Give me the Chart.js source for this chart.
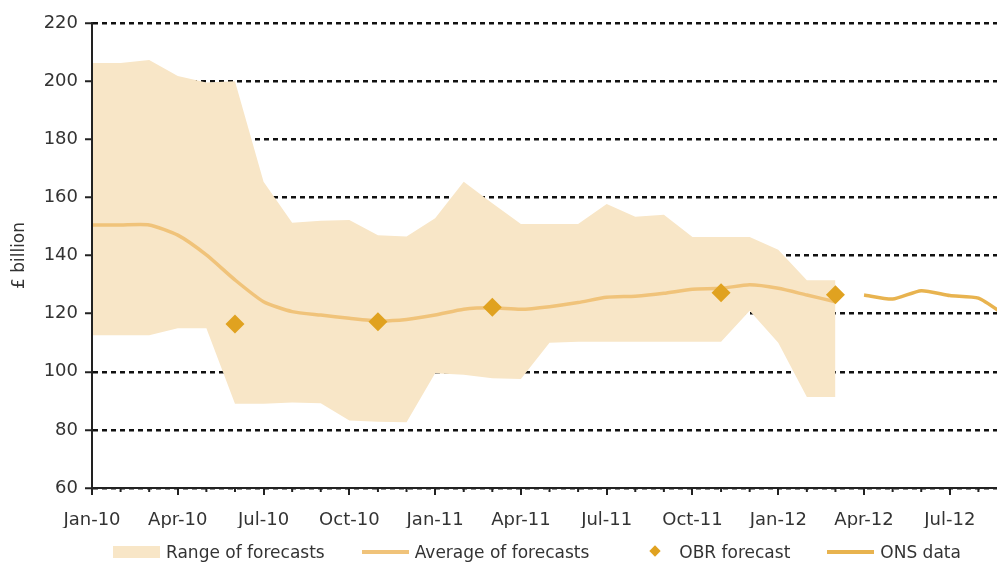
<!DOCTYPE html>
<html>
<head>
<meta charset="utf-8">
<script src="https://cdn.jsdelivr.net/npm/chart.js@4.4.1/dist/chart.umd.min.js"></script>
<style>
  html, body { margin: 0; padding: 0; background: #fff; }
  #wrap { position: relative; width: 997px; height: 563px; overflow: hidden; }
  #legend {
    position: absolute; left: 113px; top: 541px; height: 22px;
    display: flex; align-items: center; gap: 37px;
    font: 17px "DejaVu Sans", sans-serif; color: #333; white-space: nowrap;
  }
  .item { display: flex; align-items: center; }
  .swatch { width: 47px; height: 22px; margin-right: 6px; position: relative; }
  .swatch span { position: absolute; }
  .box span { left: 0; top: 5px; width: 47px; height: 12px; background: #F8E6C7; }
  .line span { left: 0; top: 9px; width: 47px; height: 4px; }
  .diamond span { left: 25px; top: 6px; width: 8px; height: 8px; background: #E0A220; transform: rotate(45deg); }
</style>
</head>
<body>
<div id="wrap">
  <canvas id="chart" width="997" height="563"></canvas>
  <div id="legend"></div>
</div>
<script>
// month labels, Jan-10 .. Sep-12
const months = ['Jan-10', 'Feb-10', 'Mar-10', 'Apr-10', 'May-10', 'Jun-10', 'Jul-10', 'Aug-10', 'Sep-10',
    'Oct-10', 'Nov-10', 'Dec-10', 'Jan-11', 'Feb-11', 'Mar-11', 'Apr-11', 'May-11', 'Jun-11', 'Jul-11',
    'Aug-11', 'Sep-11', 'Oct-11', 'Nov-11', 'Dec-11', 'Jan-12', 'Feb-12', 'Mar-12', 'Apr-12', 'May-12',
    'Jun-12', 'Jul-12', 'Aug-12', 'Sep-12'];

// forecasts run Jan-10 .. Mar-12
const rangeLow = [112.6, 112.6, 112.6, 115, 115, 89, 89, 89.4, 89.2, 83.2, 82.8, 82.6, 99.5, 99, 97.8, 97.5,
    110, 110.3, 110.3, 110.3, 110.3, 110.3, 110.3, 121, 110, 91.3, 91.3];
const rangeHigh = [206.2, 206.2, 207.3, 201.8, 199.5, 200, 165.4, 151.3, 152, 152.2, 147, 146.5, 152.8, 165.4,
    158, 150.8, 150.8, 150.8, 157.7, 153.3, 154, 146.4, 146.4, 146.4, 142, 131.5, 131.5];
const averageForecast = [150.5, 150.5, 150.5, 147, 140.2, 131.6, 124.1, 120.7, 119.5, 118.4, 117.5, 118, 119.5,
    121.5, 122, 121.5, 122.4, 123.8, 125.6, 126, 127, 128.4, 128.7, 129.9, 128.7, 126.4, 124.1];

const obrDates = ['Jun-10', 'Nov-10', 'Mar-11', 'Nov-11', 'Mar-12'];
const obrForecast = [116.4, 117.2, 122.2, 127.2, 126.5];

const onsDates = ['Apr-12', 'May-12', 'Jun-12', 'Jul-12', 'Aug-12', 'Sep-12'];
const onsData = [126.4, 125, 127.9, 126.2, 125.3, 119];

const fillColour = '#F8E6C7';
const avgColour = '#F0C37A';
const onsColour = '#E8B34F';
const obrColour = '#E0A220';
const font = 'DejaVu Sans';

const toPoints = (vals) => vals.map((v, i) => ({ x: i, y: v }));
const datePoints = (dates, vals) => dates.map((d, i) => ({ x: months.indexOf(d), y: vals[i] }));

// short ticks for the months between the labelled quarters,
// and the y axis line redrawn so the shaded range doesn't cover it
const axisExtras = {
    id: 'axisExtras',
    afterDraw(chart) {
        const x = chart.scales.x;
        const y = chart.scales.y;
        const c = chart.ctx;
        c.save();
        c.strokeStyle = '#222';
        c.lineWidth = 2;
        x.ticks.forEach((t) => {
            if (t.value % 3 === 0) return;
            const px = x.getPixelForValue(t.value);
            c.beginPath();
            c.moveTo(px, x.top);
            c.lineTo(px, x.top + 4);
            c.stroke();
        });
        c.beginPath();
        c.moveTo(y.right, y.top);
        c.lineTo(y.right, y.bottom);
        c.stroke();
        c.restore();
    },
};

const ctx = document.getElementById('chart').getContext('2d');
new Chart(ctx, {
    type: 'line',
    data: {
        datasets: [
            {
                label: 'Range low',
                data: toPoints(rangeLow),
                borderColor: 'transparent',
                borderWidth: 0,
                pointRadius: 0,
                fill: false,
                order: 3,
            },
            {
                label: 'Range of forecasts',
                data: toPoints(rangeHigh),
                borderColor: 'transparent',
                borderWidth: 0,
                pointRadius: 0,
                backgroundColor: fillColour,
                fill: '-1',
                order: 2,
            },
            {
                label: 'Average of forecasts',
                data: toPoints(averageForecast),
                borderColor: avgColour,
                borderWidth: 3.5,
                pointRadius: 0,
                tension: 0.2,
                fill: false,
                order: 1,
            },
            {
                label: 'ONS data',
                data: datePoints(onsDates, onsData),
                borderColor: onsColour,
                borderWidth: 3.5,
                pointRadius: 0,
                tension: 0.2,
                fill: false,
                order: 1,
            },
            {
                label: 'OBR forecast',
                data: datePoints(obrDates, obrForecast),
                showLine: false,
                pointStyle: 'rectRot',
                pointRadius: 9.5,
                backgroundColor: obrColour,
                borderWidth: 0,
                order: 0,
            },
        ],
    },
    options: {
        responsive: false,
        animation: false,
        layout: { autoPadding: false, padding: { top: 23, right: 0, bottom: 35, left: 0 } },
        plugins: {
            legend: { display: false },
            tooltip: { enabled: false },
        },
        scales: {
            x: {
                type: 'linear',
                min: 0,
                max: 31.65,
                grid: {
                    drawOnChartArea: false,
                    color: '#222',
                    lineWidth: 2,
                    tickLength: 7,
                    tickColor: (c) => (c.tick && c.tick.value % 3 === 0 ? '#222' : 'transparent'),
                },
                border: { color: '#222', width: 2 },
                ticks: {
                    stepSize: 1,
                    includeBounds: false,
                    autoSkip: false,
                    maxRotation: 0,
                    padding: 15,
                    color: '#333',
                    font: { family: font, size: 18 },
                    callback: (v) => (v % 3 === 0 ? months[v] : ''),
                },
                afterFit: (s) => { s.height = 40; s.paddingRight = 0; },
            },
            y: {
                min: 60,
                max: 220,
                grid: { color: '#111', lineWidth: 2.5, tickLength: 7, tickColor: '#222', tickWidth: 2 },
                border: { color: '#222', width: 2, dash: [5, 4] },
                ticks: { stepSize: 20, padding: 7, color: '#333', font: { family: font, size: 18 } },
                title: {
                    display: true,
                    text: '£ billion',
                    color: '#333',
                    font: { family: font, size: 17 },
                    padding: { top: 9, bottom: 0 },
                },
                afterFit: (s) => { s.width = 92; },
            },
        },
    },
    plugins: [axisExtras],
});

// legend below the plot
const legendItems = [
    { text: 'Range of forecasts', kind: 'box' },
    { text: 'Average of forecasts', kind: 'line', colour: avgColour },
    { text: 'OBR forecast', kind: 'diamond' },
    { text: 'ONS data', kind: 'line', colour: onsColour },
];
const legend = document.getElementById('legend');
legendItems.forEach((it) => {
    const item = document.createElement('div');
    item.className = 'item';
    const sw = document.createElement('div');
    sw.className = 'swatch ' + it.kind;
    const mark = document.createElement('span');
    if (it.colour) mark.style.background = it.colour;
    sw.appendChild(mark);
    const label = document.createElement('span');
    label.textContent = it.text;
    item.appendChild(sw);
    item.appendChild(label);
    legend.appendChild(item);
});
</script>
</body>
</html>
